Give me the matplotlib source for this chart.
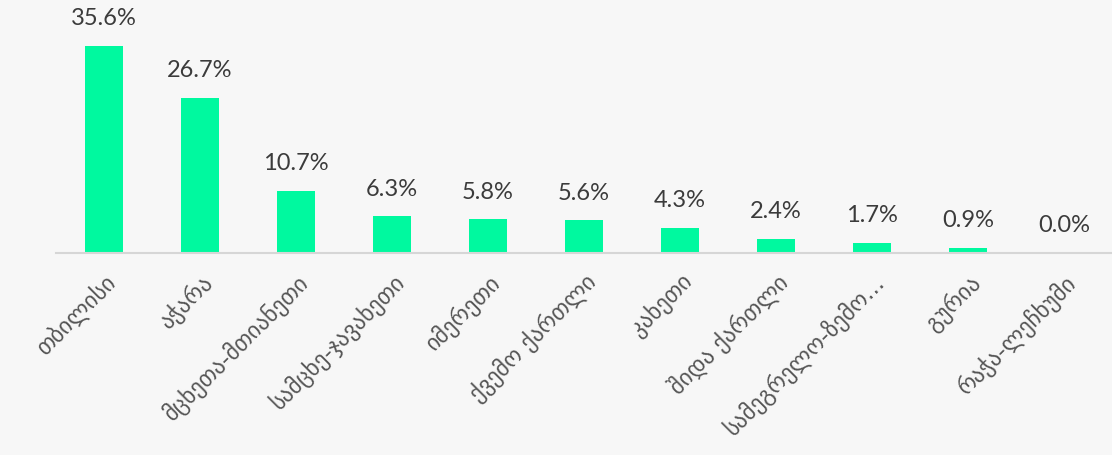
import matplotlib
matplotlib.use("Agg")
import matplotlib.pyplot as plt

regions = ["თბილისი", "აჭარა", "მცხეთა-მთიანეთი", "სამცხე-ჯავახეთი", "იმერეთი",
           "ქვემო ქართლი", "კახეთი", "შიდა ქართლი", "სამეგრელო-ზემო...", "გურია",
           "რაჭა-ლეჩხუმი"]
shares = [35.6, 26.7, 10.7, 6.3, 5.8, 5.6, 4.3, 2.4, 1.7, 0.9, 0.0]

bg = "#f7f7f7"
bar_color = "#00f99f"

fig = plt.figure(figsize=(11.12, 4.55), dpi=100, facecolor=bg)
ax = fig.add_axes([56 / 1112, 1 - 253 / 455, 1 - 56 / 1112, 253 / 455])
ax.set_facecolor(bg)

x = list(range(len(regions)))
ax.bar(x, shares, width=0.4, color=bar_color, zorder=2)

for xi, v in zip(x, shares):
    ax.annotate(f"{v:.1f}%", (xi, v), xytext=(0, 12), textcoords="offset points",
                ha="center", va="bottom", fontsize=17, color="#3b3b3b",
                family=["Lato", "DejaVu Sans"])

ax.set_xlim(-0.5, len(regions) - 0.5)
ax.set_ylim(0, 35.6 * 253 / 207)
ax.set_yticks([])
ax.set_xticks(x)
ax.set_xticklabels(regions, rotation=45, ha="right", rotation_mode="anchor",
                   fontsize=16.5, color="#555555", family=["DejaVu Sans"])
ax.tick_params(axis="x", length=0, pad=12)

for side in ("top", "right", "left"):
    ax.spines[side].set_visible(False)
ax.spines["bottom"].set_color("#d6d6d6")
ax.spines["bottom"].set_linewidth(1.5)

fig.savefig("out.png", dpi=100, facecolor=bg)
